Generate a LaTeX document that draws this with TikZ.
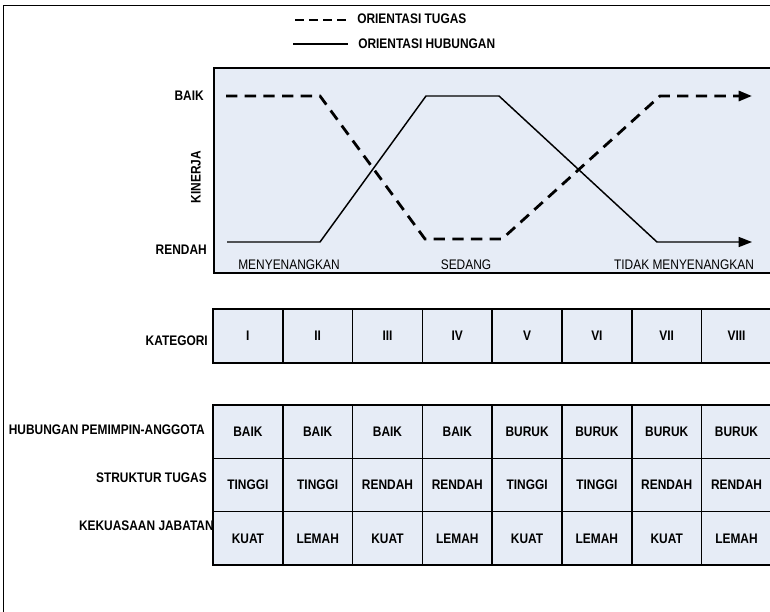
\documentclass[tikz,border=0pt]{standalone}
\usepackage{fontspec}
\setmainfont{Liberation Sans}[FakeStretch=0.86]
\usetikzlibrary{arrows.meta}
\definecolor{cellfill}{RGB}{230,236,246}
\begin{document}
\begin{tikzpicture}[x=0.75pt,y=-0.75pt,
  font=\fontsize{10.4pt}{12pt}\selectfont,
  frameline/.style={line width=1.2pt},
  boldlbl/.style={font=\fontsize{10.4pt}{12pt}\selectfont\bfseries, inner sep=0},
  plainlbl/.style={font=\fontsize{10.4pt}{12pt}\selectfont, inner sep=0},
  cell/.style={draw, line width=1.2pt, fill=cellfill, inner sep=0,
    minimum width=52.35pt, font=\fontsize{10.4pt}{12pt}\selectfont\bfseries},
  catcell/.style={cell, minimum height=40.5pt},
  tabcell/.style={cell, minimum height=40pt},
  tugas/.style={line width=2.1pt, dash pattern=on 8.5pt off 5.5pt},
  tugaslg/.style={line width=2.1pt, dash pattern=on 7pt off 3.5pt},
  hubungan/.style={line width=1.1pt},
  tip/.style={-{Triangle[length=10pt,width=7.5pt]}}
]
\useasboundingbox (0,0) rectangle (770,611);
\clip (0,0) rectangle (770,611);
\fill[white] (0,0) rectangle (770,611);
% outer frame
\coordinate (fa) at (3.5,640);
\coordinate (fb) at (3.5,5.5);
\coordinate (fc) at (800,5.5);
\draw[frameline] (fa) -- (fb) -- (fc);

% legend
\coordinate (lt1) at (295,20);
\coordinate (lt2) at (347,20);
\coordinate (lh1) at (293,44);
\coordinate (lh2) at (348,44);
\draw[tugaslg] (lt1) -- (lt2);
\draw[hubungan] (lh1) -- (lh2);
\node[boldlbl, anchor=west] (legt) at (357,19) {ORIENTASI TUGAS};
\node[boldlbl, anchor=west] (legh) at (358,44) {ORIENTASI HUBUNGAN};

% chart area
\node[draw, line width=1.2pt, fill=cellfill, inner sep=0, anchor=north west,
  minimum width=440pt, minimum height=153.75pt] (chart) at (213,67) {};
\node[boldlbl, anchor=east] (baik) at (204,96) {BAIK};
\node[boldlbl, anchor=east] (rendah) at (207,250) {RENDAH};
\node[boldlbl, rotate=90] (kinerja) at (196,177) {KINERJA};
\node[plainlbl] (meny) at (289,265) {MENYENANGKAN};
\node[plainlbl] (sedang) at (466,265) {SEDANG};
\node[plainlbl] (tidak) at (684,265) {TIDAK MENYENANGKAN};

% curves
\coordinate (d1) at (226,96);
\coordinate (d2) at (320,96);
\coordinate (d3) at (425,239);
\coordinate (d4) at (502,239);
\coordinate (d5) at (660,96);
\coordinate (d6) at (752,96);
\coordinate (s1) at (227,242);
\coordinate (s2) at (320,242);
\coordinate (s3) at (426,96);
\coordinate (s4) at (499,96);
\coordinate (s5) at (657,242);
\coordinate (s6) at (752,242);
\draw[tugas, tip] (d1) -- (d2) -- (d3) -- (d4) -- (d5) -- (d6);
\draw[hubungan, tip] (s1) -- (s2) -- (s3) -- (s4) -- (s5) -- (s6);

% kategori
\node[boldlbl, anchor=east] (kat) at (208,341) {KATEGORI};
\foreach \r [count=\i] in {I,II,III,IV,V,VI,VII,VIII} {
  \node[catcell] (k\i) at ({213+34.9+69.8*(\i-1)},336) {\r};
}

% table
\node[boldlbl, anchor=east] (hpa) at (205,430) {HUBUNGAN PEMIMPIN-ANGGOTA};
\node[boldlbl, anchor=east] (stt) at (207,478) {STRUKTUR TUGAS};
\node[boldlbl, anchor=east] (kkj) at (214,526) {KEKUASAAN JABATAN};
\foreach \t [count=\i] in {BAIK,BAIK,BAIK,BAIK,BURUK,BURUK,BURUK,BURUK} {
  \node[tabcell] (a\i) at ({213+34.9+69.8*(\i-1)},431.7) {\t};
}
\foreach \t [count=\i] in {TINGGI,TINGGI,RENDAH,RENDAH,TINGGI,TINGGI,RENDAH,RENDAH} {
  \node[tabcell] (b\i) at ({213+34.9+69.8*(\i-1)},485) {\t};
}
\foreach \t [count=\i] in {KUAT,LEMAH,KUAT,LEMAH,KUAT,LEMAH,KUAT,LEMAH} {
  \node[tabcell] (c\i) at ({213+34.9+69.8*(\i-1)},538.3) {\t};
}
\end{tikzpicture}
\end{document}
